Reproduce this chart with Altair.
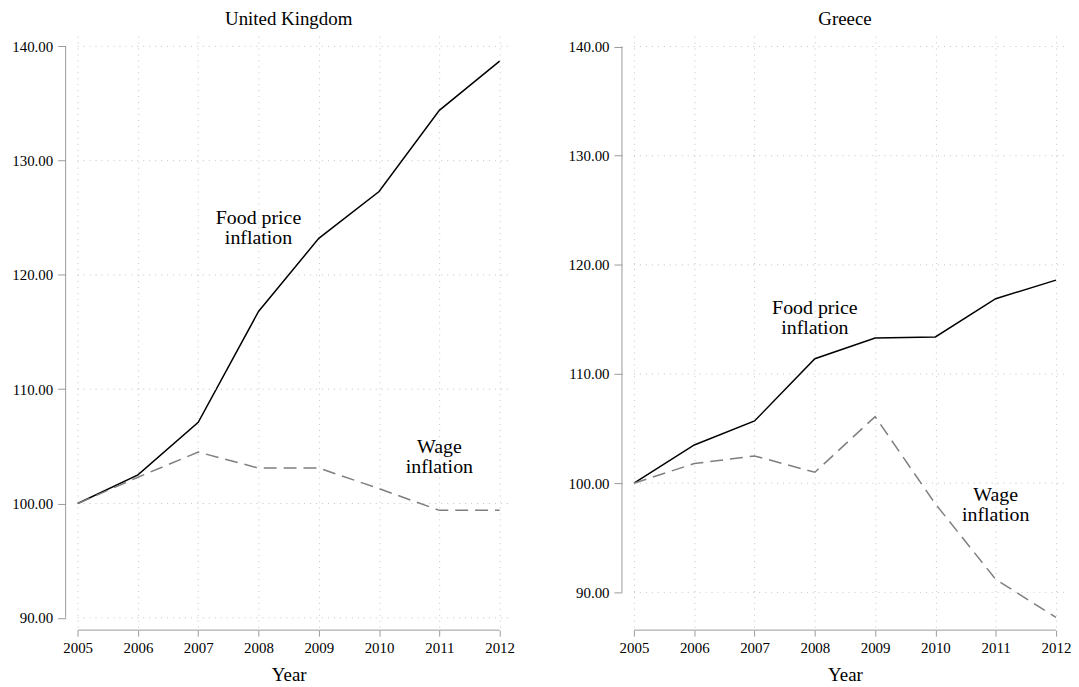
import altair as alt
import pandas as pd

years = [2005, 2006, 2007, 2008, 2009, 2010, 2011, 2012]
uk_food = [100.0, 102.5, 107.1, 116.8, 123.2, 127.3, 134.4, 138.7]
uk_wage = [100.0, 102.3, 104.5, 103.1, 103.1, 101.3, 99.4, 99.4]
gr_food = [100.0, 103.5, 105.7, 111.4, 113.3, 113.4, 116.9, 118.6]
gr_wage = [100.0, 101.8, 102.5, 101.0, 106.1, 98.1, 91.2, 87.7]
y_ticks = [90, 100, 110, 120, 130, 140]
countries = ["United Kingdom", "Greece"]
label_texts = ["Food price\ninflation", "Wage\ninflation"]
label_years = [2008, 2011]
uk_label_values = [125.0, 104.9]
gr_label_values = [116.0, 98.9]

FONT = "Liberation Serif"
W, H = 449, 598
AXIS_GRAY = "#9a9a9a"
GRID_GRAY = "#c4c4c4"


def panel(title, food, wage, ydom, label_vals):
    df = pd.DataFrame({"year": years, "food": food, "wage": wage})
    x_enc = alt.X(
        "year:Q",
        scale=alt.Scale(domain=[2004.8, 2012.2], nice=False, zero=False),
        axis=alt.Axis(values=years, format="d", title="Year", domain=False, grid=True),
    )
    y_enc = alt.Y(
        "food:Q",
        scale=alt.Scale(domain=ydom, nice=False, zero=False),
        axis=alt.Axis(values=y_ticks, format=".2f", title=None, domain=False, grid=False),
    )
    hgrid = alt.Chart(pd.DataFrame({"tick": y_ticks})).mark_rule(
        color=GRID_GRAY, strokeDash=[1, 5], strokeWidth=1
    ).encode(y=alt.Y("tick:Q", title=None), x=alt.datum(years[0]), x2=alt.value(W))
    base = alt.Chart(df)
    food_line = base.mark_line(color="black", strokeWidth=1.5).encode(x=x_enc, y=y_enc)
    wage_line = base.mark_line(color="#7f7f7f", strokeWidth=1.5, strokeDash=[13, 7]).encode(
        x=alt.X("year:Q", title="Year"), y=alt.Y("wage:Q", title=None)
    )
    yaxis_line = alt.Chart(pd.DataFrame({"lo": [y_ticks[0]], "hi": [y_ticks[-1]]})).mark_rule(
        color=AXIS_GRAY, strokeWidth=1
    ).encode(x=alt.value(0), y=alt.Y("lo:Q", title=None), y2="hi:Q")
    xaxis_line = alt.Chart(pd.DataFrame({"lo": [years[0]], "hi": [years[-1]]})).mark_rule(
        color=AXIS_GRAY, strokeWidth=1
    ).encode(y=alt.value(H), x=alt.X("lo:Q", title="Year"), x2="hi:Q")
    labels = alt.Chart(
        pd.DataFrame({"year": label_years, "value": label_vals, "text": label_texts})
    ).mark_text(font=FONT, fontSize=20, lineHeight=20, baseline="middle", align="center",
                color="black", lineBreak="\n").encode(
        x=alt.X("year:Q", title="Year"), y=alt.Y("value:Q", title=None), text="text:N"
    )
    return alt.layer(food_line, hgrid, wage_line, yaxis_line, xaxis_line, labels).properties(
        width=W,
        height=H,
        title=alt.TitleParams(title, font=FONT, fontSize=19, fontWeight="normal",
                              anchor="middle", offset=7, color="black"),
    )


uk = panel(countries[0], uk_food, uk_wage, [88.92, 140.9], uk_label_values)
gr = panel(countries[1], gr_food, gr_wage, [86.54, 140.96], gr_label_values)

chart = alt.hconcat(uk, gr, spacing=53).properties(
    padding={"left": 3, "top": 0, "right": 0, "bottom": 0},
    background="white",
).configure_view(stroke=None).configure_axis(
    labelFont=FONT, labelFontSize=15, labelColor="black", tickColor=AXIS_GRAY,
    titleFont=FONT, titleFontSize=19,
    titleFontWeight="normal", titleColor="black",
    gridColor=GRID_GRAY, gridDash=[1, 5], gridWidth=1,
).configure_axisX(
    tickSize=6, labelPadding=5, titlePadding=10,
).configure_axisY(
    tickSize=8, labelPadding=5,
)

chart.save("out.html", embed_options={"renderer": "svg", "actions": False})
